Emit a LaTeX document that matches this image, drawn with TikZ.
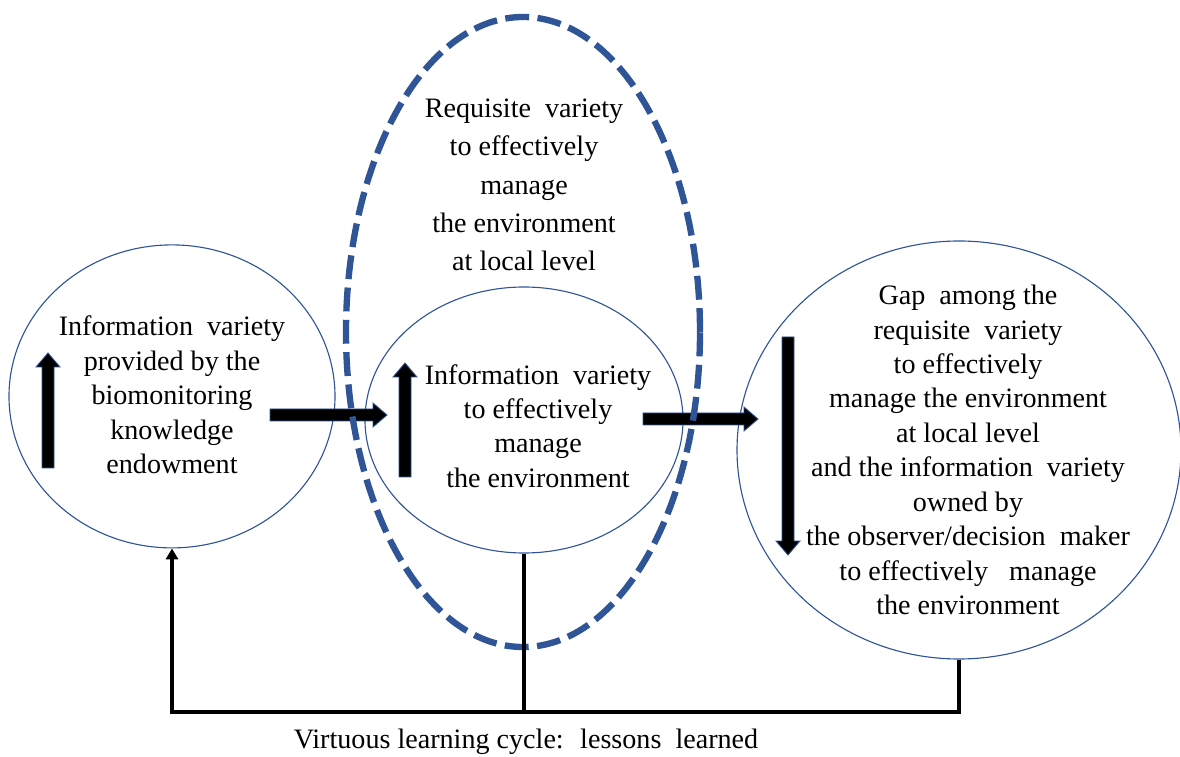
\documentclass[tikz,border=0pt]{standalone}
\usepackage{fontspec}
\setmainfont{Liberation Serif}
\usetikzlibrary{shapes.geometric,arrows.meta}
\definecolor{ringblue}{RGB}{47,85,151}
\tikzset{
  pics/fatarrow/.style={code={
    \filldraw[draw=ringblue,fill=black,line width=0.6pt]
      (-0.15,0) -- (0.15,0) -- (0.15,#1) -- (0.3,#1) -- (0,#1+0.35)
      -- (-0.3,#1) -- (-0.15,#1) -- cycle;
  }}
}
\begin{document}
\begin{tikzpicture}[
    ring/.style={ellipse,draw=ringblue,line width=0.8pt,inner sep=0pt},
    txt/.style={align=center,inner sep=0pt,font=\fontsize{20}{24.5}\selectfont},
    loopline/.style={line width=2.2pt}]
  \useasboundingbox (0,0) rectangle (29.5,18.9);
  \node[ring,minimum width=8.15cm,minimum height=7.575cm] (know) at (4.3,8.99) {};
  \node[ring,minimum width=7.95cm,minimum height=6.65cm] (have) at (13.1,8.4) {};
  \node[ring,minimum width=11.1cm,minimum height=10.45cm] (gap) at (23.975,7.65) {};
  \node[txt] (knowtxt) at (4.3,9.025) {Information~ variety\\provided by the\\biomonitoring\\knowledge\\endowment};
  \node[txt] (havetxt) at (13.45,8.25) {Information~ variety\\to effectively\\manage\\the environment};
  \node[txt] (gaptxt) at (24.2,7.65) {Gap~ among the\\requisite~ variety\\to effectively\\manage the environment\\at local level\\and the information~ variety\\owned by\\the observer/decision~ maker\\to effectively~~ manage\\the environment};
  \pic at (1.2,7.2) {fatarrow=2.525};
  \pic at (10.125,6.975) {fatarrow=2.5};
  \pic[rotate=180] at (19.7,10.475) {fatarrow=5.1};
  \pic[rotate=-90] at (6.75,8.525) {fatarrow=2.575};
  \pic[rotate=-90] at (16.075,8.425) {fatarrow=2.525};
  \node[ellipse,draw=ringblue,line width=4.5pt,dash pattern=on 17pt off 6pt,
        minimum width=8.85cm,minimum height=15.75cm,inner sep=0pt] (req) at (13.075,10.6) {};
  \node[txt,font=\fontsize{20}{27.3}\selectfont] (reqtxt) at (13.1,14.275) {Requisite~ variety\\to effectively\\manage\\the environment\\at local level};
  \draw[loopline] (have.south) -- (have.south |- 0,1.1);
  \draw[loopline,-{Triangle[length=0.27cm,width=0.3cm]}] (gap.south) -- (gap.south |- 0,1.1) -| (know.south);
  \node[txt,anchor=base] (lessons) at (13.15,0.2) {Virtuous learning cycle:~ lessons~ learned};
\end{tikzpicture}
\end{document}
